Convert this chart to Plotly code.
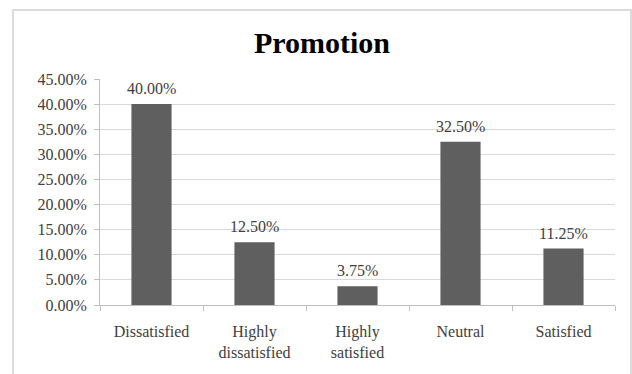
import plotly.graph_objects as go

categories = ["Dissatisfied", "Highly<br>dissatisfied", "Highly<br>satisfied", "Neutral", "Satisfied"]
values = [0.40, 0.125, 0.0375, 0.325, 0.1125]
labels = ["40.00%", "12.50%", "3.75%", "32.50%", "11.25%"]

W, H = 632, 374
L, R, T, B = 100, 17, 79, 69
pw, ph = W - L - R, H - T - B

def px(x):
    return (x - L) / pw

def py(y):
    return (H - B - y) / ph

FONT = "Liberation Serif"

fig = go.Figure()
fig.add_trace(go.Bar(
    x=categories, y=values,
    marker=dict(color="#5f5f5f", line=dict(width=0)),
    width=0.39,
))

for c, v, t in zip(categories, values, labels):
    fig.add_annotation(x=c, y=v, text=t, showarrow=False, yanchor="bottom",
                       yshift=5, font=dict(family=FONT, size=16, color="#404040"))

fig.add_shape(type="rect", xref="paper", yref="paper",
              x0=px(13), x1=px(631), y0=py(390), y1=py(10),
              line=dict(color="#dcdcdc", width=2), fillcolor="rgba(0,0,0,0)", layer="below")

fig.update_layout(
    width=W, height=H,
    margin=dict(l=L, r=R, t=T, b=B, pad=0),
    paper_bgcolor="white", plot_bgcolor="white",
    showlegend=False,
    title=dict(text="<b>Promotion</b>", x=322 / W, xanchor="center", y=1 - 42 / H, yanchor="middle",
               font=dict(family=FONT, size=30, color="#000000")),
    font=dict(family=FONT, size=16, color="#404040"),
    xaxis=dict(showline=True, linecolor="#bfbfbf", linewidth=1, ticks="outside", tickson="boundaries",
               ticklen=5, tickcolor="#bfbfbf", showgrid=False, ticklabelstandoff=12,
               tickfont=dict(family=FONT, size=16, color="#404040")),
    yaxis=dict(range=[0, 0.45], dtick=0.05, tickformat=".2%", showline=True, linecolor="#bfbfbf",
               linewidth=1, ticks="outside", ticklen=5, tickcolor="#bfbfbf",
               showgrid=True, gridcolor="#d9d9d9", gridwidth=1, zeroline=False,
               tickfont=dict(family=FONT, size=16, color="#404040"), ticklabelstandoff=4),
)

fig.write_html("out.html")
